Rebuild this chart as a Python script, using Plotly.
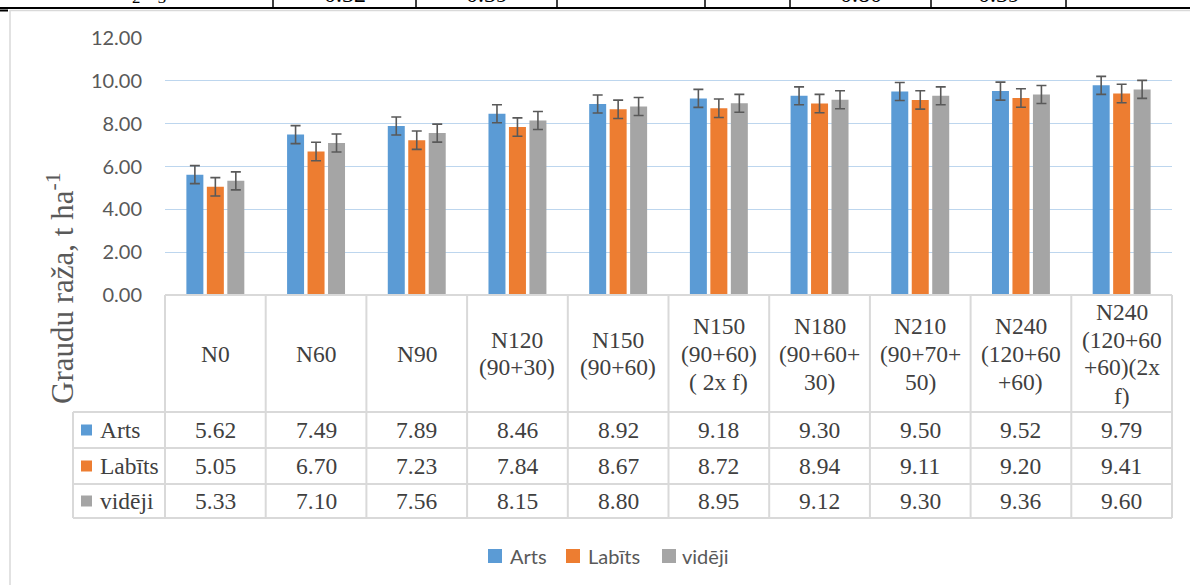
import plotly.graph_objects as go

# ---------------- data ----------------
categories = ["N0", "N60", "N90", "N120<br>(90+30)", "N150<br>(90+60)",
              "N150<br>(90+60)<br>( 2x f)", "N180<br>(90+60+<br>30)",
              "N210<br>(90+70+<br>50)", "N240<br>(120+60<br>+60)",
              "N240<br>(120+60<br>+60)(2x<br>f)"]
series_names = ["Arts", "Labīts", "vidēji"]
arts = [5.62, 7.49, 7.89, 8.46, 8.92, 9.18, 9.30, 9.50, 9.52, 9.79]
labits = [5.05, 6.70, 7.23, 7.84, 8.67, 8.72, 8.94, 9.11, 9.20, 9.41]
videji = [5.33, 7.10, 7.56, 8.15, 8.80, 8.95, 9.12, 9.30, 9.36, 9.60]
err_arts = [0.42, 0.42, 0.42, 0.42, 0.42, 0.42, 0.42, 0.42, 0.42, 0.42]
err_labits = [0.43, 0.43, 0.43, 0.43, 0.43, 0.43, 0.43, 0.43, 0.43, 0.43]
err_videji = [0.42, 0.42, 0.42, 0.42, 0.42, 0.42, 0.42, 0.42, 0.42, 0.42]
colors = ["#5B9BD5", "#ED7D31", "#A5A5A5"]
y_ticks = [0, 2, 4, 6, 8, 10, 12]
y_title = "Graudu raža, t ha<sup>-1</sup>"
# fragment of the preceding table visible at the top edge
top_labels = ["Al<sub>2</sub>O<sub>3</sub>", "0.32", "0.39", "", "", "0.80", "0.39"]
top_bounds = [0, 273, 416, 557, 705, 790, 931, 1066]

series_values = [arts, labits, videji]
series_errors = [err_arts, err_labits, err_videji]

# ---------------- geometry helpers ----------------
W, H = 1190, 585
L, R, T, B = 165, 18, 38, 290
PW, PH = W - L - R, H - T - B


def px(x):
    return (x - L) / PW


def py(y):
    return (H - B - y) / PH


SERIF = "Liberation Serif"
SANS = "Lato"
TXT = "#404040"
GRID_LINE = "#D9D9D9"

fig = go.Figure()
for name, vals, errs, col in zip(series_names, series_values, series_errors, colors):
    fig.add_trace(go.Bar(
        x=categories, y=vals, name=name, marker=dict(color=col, line=dict(width=0)),
        error_y=dict(type="data", array=errs, visible=True, color="#595959",
                     thickness=1.6, width=5),
        showlegend=False,
    ))

shapes = []
annotations = []

n = len(categories)
# ---- data table grid ----
y_head_top, y_head_bot = 295, 412
row_edges = [412, 448, 484, 518]
x_leg_left = 73
shapes.append(dict(type="line", xref="paper", yref="paper", x0=0, x1=1,
                   y0=py(y_head_top), y1=py(y_head_top), line=dict(color=GRID_LINE, width=2)))
for ye in row_edges:
    shapes.append(dict(type="line", xref="paper", yref="paper", x0=px(x_leg_left), x1=1,
                       y0=py(ye), y1=py(ye), line=dict(color=GRID_LINE, width=2)))
for i in range(n + 1):
    xp = i / n
    shapes.append(dict(type="line", xref="paper", yref="paper", x0=xp, x1=xp,
                       y0=py(y_head_top), y1=py(row_edges[-1]), line=dict(color=GRID_LINE, width=2)))
shapes.append(dict(type="line", xref="paper", yref="paper", x0=px(x_leg_left), x1=px(x_leg_left),
                   y0=py(row_edges[0]), y1=py(row_edges[-1]), line=dict(color=GRID_LINE, width=2)))

# header labels
head_center = (y_head_top + y_head_bot) / 2
line_step = 28
for i, cat in enumerate(categories):
    lines = cat.split("<br>")
    k = len(lines)
    for j, ln in enumerate(lines):
        yc = head_center + (j - (k - 1) / 2) * line_step
        annotations.append(dict(x=(i + 0.5) / n, y=py(yc), xref="paper", yref="paper",
                                text=ln, showarrow=False, xanchor="center", yanchor="middle",
                                font=dict(family=SERIF, size=23.5, color=TXT)))

# value rows
for r, (name, vals, col) in enumerate(zip(series_names, series_values, colors)):
    yc = (row_edges[r] + row_edges[r + 1]) / 2
    shapes.append(dict(type="rect", xref="paper", yref="paper", x0=px(81), x1=px(92),
                       y0=py(yc - 5.5), y1=py(yc + 5.5), fillcolor=col, line=dict(width=0)))
    annotations.append(dict(x=px(98), y=py(yc), xref="paper", yref="paper", text=name,
                            showarrow=False, xanchor="left", yanchor="middle",
                            font=dict(family=SERIF, size=23.5, color=TXT)))
    for i, v in enumerate(vals):
        annotations.append(dict(x=(i + 0.5) / n, y=py(yc), xref="paper", yref="paper",
                                text=f"{v:.2f}", showarrow=False, xanchor="center", yanchor="middle",
                                font=dict(family=SERIF, size=23.5, color=TXT)))

# ---- bottom legend ----
leg_sq_x = [488, 566, 662]
leg_txt_x = [508, 586, 680]
leg_y = 556
for name, col, sx, tx in zip(series_names, colors, leg_sq_x, leg_txt_x):
    shapes.append(dict(type="rect", xref="paper", yref="paper", x0=px(sx), x1=px(sx + 14),
                       y0=py(leg_y - 7), y1=py(leg_y + 7), fillcolor=col, line=dict(width=0)))
    annotations.append(dict(x=px(tx), y=py(leg_y), xref="paper", yref="paper", text=name,
                            showarrow=False, xanchor="left", yanchor="middle",
                            font=dict(family=SANS, size=20, color="#595959")))

# ---- y axis title ----
annotations.append(dict(x=px(60), y=py(288), xref="paper", yref="paper", text=y_title,
                        textangle=-90, showarrow=False, xanchor="center", yanchor="middle",
                        font=dict(family=SERIF, size=31, color="#595959")))

# ---- chart frame ----
shapes.append(dict(type="line", xref="paper", yref="paper", x0=px(10), x1=px(10),
                   y0=py(10), y1=py(H + 5), line=dict(color="#D9D9D9", width=1.5)))
shapes.append(dict(type="line", xref="paper", yref="paper", x0=px(10), x1=px(W + 5),
                   y0=py(10.5), y1=py(10.5), line=dict(color="#D9D9D9", width=1.5)))

# ---- fragment of preceding table at top ----
shapes.append(dict(type="line", xref="paper", yref="paper", x0=px(-5), x1=px(W + 5),
                   y0=py(8), y1=py(8), line=dict(color="#000000", width=2)))
shapes.append(dict(type="line", xref="paper", yref="paper", x0=px(0), x1=px(8),
                   y0=py(10.5), y1=py(10.5), line=dict(color="#000000", width=2)))
for xb in top_bounds[1:]:
    shapes.append(dict(type="line", xref="paper", yref="paper", x0=px(xb), x1=px(xb),
                       y0=py(-5), y1=py(8), line=dict(color="#000000", width=1.5)))
for k, lab in enumerate(top_labels):
    if not lab:
        continue
    xc = (top_bounds[k] + top_bounds[k + 1]) / 2
    annotations.append(dict(x=px(xc), y=py(9), xref="paper", yref="paper", text=lab,
                            showarrow=False, xanchor="center", yanchor="bottom",
                            font=dict(family=SERIF, size=24, color="#000000")))

fig.update_layout(
    width=W, height=H,
    margin=dict(l=L, r=R, t=T, b=B, pad=0),
    paper_bgcolor="white", plot_bgcolor="white",
    barmode="group", bargap=0.39, bargroupgap=0.17,
    xaxis=dict(showticklabels=False, showgrid=False, zeroline=False, showline=False,
               range=[-0.5, n - 0.5], ticks=""),
    yaxis=dict(range=[0, 12], tickvals=y_ticks, tickformat=".2f", showgrid=True,
               gridcolor="#BDD6EE", gridwidth=1.4, zeroline=False, showline=False,
               ticks="", ticklabelstandoff=22,
               tickfont=dict(family=SANS, size=20, color="#595959")),
    shapes=shapes, annotations=annotations,
    showlegend=False,
)

fig.write_html("out.html", config={"displayModeBar": False},
               post_script="document.body.style.margin='0';")
